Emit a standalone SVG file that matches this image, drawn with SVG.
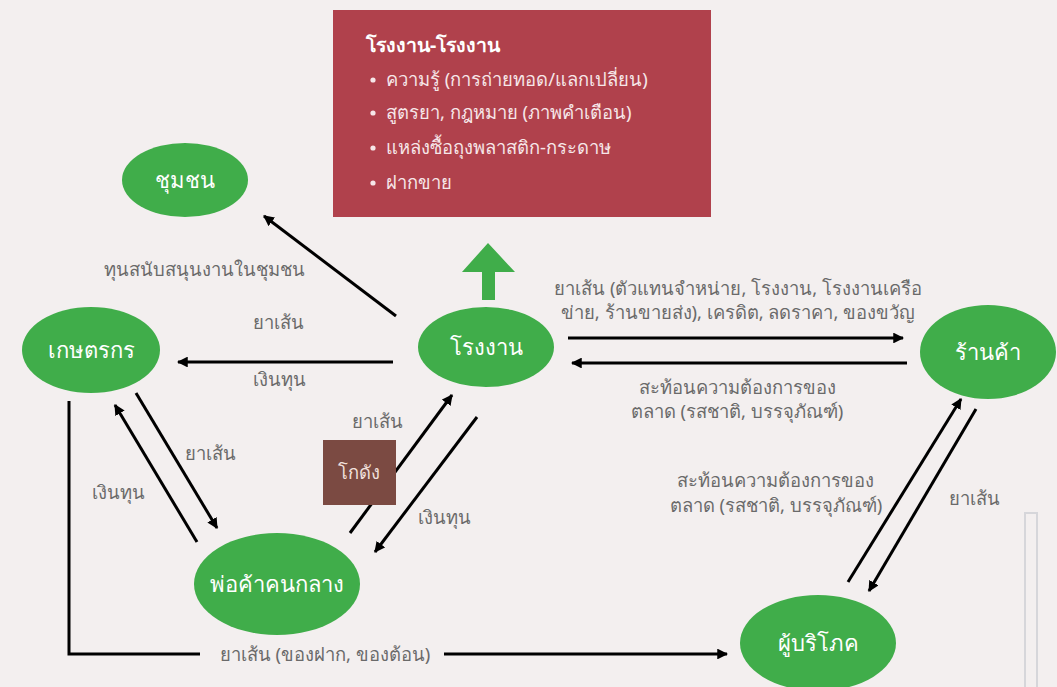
<svg xmlns="http://www.w3.org/2000/svg" width="1057" height="687" viewBox="0 0 1057 687">
<defs>
<style>
.node{fill:#40ad4a}
.nl{font-family:"Noto Sans","DejaVu Sans",sans-serif;font-size:22px;fill:#ffffff;text-anchor:middle}
.lbc{font-family:"Noto Sans","DejaVu Sans",sans-serif;font-size:18.4px;fill:#6a6a6a;text-anchor:middle}
.bx{font-family:"Noto Sans","DejaVu Sans",sans-serif;font-size:18.4px;fill:#f6e6e8}
.ln{stroke:#000;stroke-width:3;fill:none}
</style>
<marker id="ah" viewBox="0 0 10 10" refX="9" refY="5" markerWidth="3.6" markerHeight="3.6" orient="auto" markerUnits="strokeWidth">
<path d="M0,0 L10,5 L0,10 z" fill="#000"/>
</marker>
</defs>
<rect width="1057" height="687" fill="#f3efef"/>
<rect x="1025" y="513" width="12" height="180" fill="none" stroke="#d6d6da" stroke-width="2"/>

<g id="connectors">
<line class="ln" x1="396" y1="316" x2="264" y2="216" marker-end="url(#ah)"/>
<line class="ln" x1="393" y1="362" x2="178" y2="362" marker-end="url(#ah)"/>
<line class="ln" x1="136" y1="393" x2="217" y2="528" marker-end="url(#ah)"/>
<line class="ln" x1="197" y1="542" x2="115" y2="405" marker-end="url(#ah)"/>
<line class="ln" x1="350" y1="533" x2="452" y2="395" marker-end="url(#ah)"/>
<line class="ln" x1="477" y1="417" x2="375" y2="552" marker-end="url(#ah)"/>
<polyline class="ln" points="69,401 69,654 200,654"/>
<line class="ln" x1="444" y1="654" x2="727" y2="654" marker-end="url(#ah)"/>
<line class="ln" x1="568" y1="338" x2="903" y2="338" marker-end="url(#ah)"/>
<line class="ln" x1="907" y1="363" x2="572" y2="363" marker-end="url(#ah)"/>
<line class="ln" x1="848" y1="582" x2="961" y2="399" marker-end="url(#ah)"/>
<line class="ln" x1="976" y1="409" x2="869" y2="591" marker-end="url(#ah)"/>
</g>

<g id="factory-box">
<rect x="333" y="10" width="378" height="207" fill="#b0414c"/>
<text x="366" y="52" class="bx" font-weight="bold" style="fill:#ffffff;font-size:19.5px">โรงงาน-โรงงาน</text>
<circle cx="373" cy="80" r="2.6" fill="#f6e6e8"/>
<text x="386" y="86" class="bx">ความรู้ (การถ่ายทอด/แลกเปลี่ยน)</text>
<circle cx="373" cy="113" r="2.6" fill="#f6e6e8"/>
<text x="386" y="119" class="bx">สูตรยา, กฎหมาย (ภาพคำเตือน)</text>
<circle cx="373" cy="148" r="2.6" fill="#f6e6e8"/>
<text x="386" y="154" class="bx">แหล่งซื้อถุงพลาสติก-กระดาษ</text>
<circle cx="373" cy="183" r="2.6" fill="#f6e6e8"/>
<text x="386" y="189" class="bx">ฝากขาย</text>
</g>

<g id="up-arrow">
<polygon points="488,243 515,272 495,272 495,300 482,300 482,272 462,272" fill="#40ad4a"/>
</g>

<g id="warehouse">
<rect x="323" y="440" width="73" height="65" fill="#7b4a42"/>
<text x="359" y="479" class="lbc" style="fill:#f0e0dc">โกดัง</text>
</g>

<g id="community"><ellipse class="node" cx="185" cy="180" rx="63" ry="37"/><text x="185" y="188" class="nl">ชุมชน</text></g>
<g id="farmer"><ellipse class="node" cx="91" cy="350" rx="69" ry="43"/><text x="91" y="358" class="nl">เกษตรกร</text></g>
<g id="factory"><ellipse class="node" cx="486" cy="347" rx="68" ry="40"/><text x="486" y="355" class="nl">โรงงาน</text></g>
<g id="shop"><ellipse class="node" cx="988" cy="352" rx="68" ry="47"/><text x="988" y="360" class="nl">ร้านค้า</text></g>
<g id="middleman"><ellipse class="node" cx="277" cy="584" rx="83" ry="51"/><text x="277" y="592" class="nl">พ่อค้าคนกลาง</text></g>
<g id="consumer"><ellipse class="node" cx="818" cy="643" rx="78" ry="48"/><text x="818" y="651" class="nl">ผู้บริโภค</text></g>

<g id="labels">
<text x="204" y="276" class="lbc">ทุนสนับสนุนงานในชุมชน</text>
<text x="278" y="329" class="lbc">ยาเส้น</text>
<text x="279" y="386" class="lbc">เงินทุน</text>
<text x="738" y="295" class="lbc">ยาเส้น (ตัวแทนจำหน่าย, โรงงาน, โรงงานเครือ</text>
<text x="738" y="319" class="lbc">ข่าย, ร้านขายส่ง), เครดิต, ลดราคา, ของขวัญ</text>
<text x="737" y="394" class="lbc">สะท้อนความต้องการของ</text>
<text x="737" y="418" class="lbc">ตลาด (รสชาติ, บรรจุภัณฑ์)</text>
<text x="377" y="428" class="lbc">ยาเส้น</text>
<text x="210" y="460" class="lbc">ยาเส้น</text>
<text x="118" y="499" class="lbc">เงินทุน</text>
<text x="444" y="524" class="lbc">เงินทุน</text>
<text x="325" y="661" class="lbc">ยาเส้น (ของฝาก, ของต้อน)</text>
<text x="775" y="487" class="lbc">สะท้อนความต้องการของ</text>
<text x="776" y="512" class="lbc">ตลาด (รสชาติ, บรรจุภัณฑ์)</text>
<text x="974" y="505" class="lbc">ยาเส้น</text>
</g>
</svg>
